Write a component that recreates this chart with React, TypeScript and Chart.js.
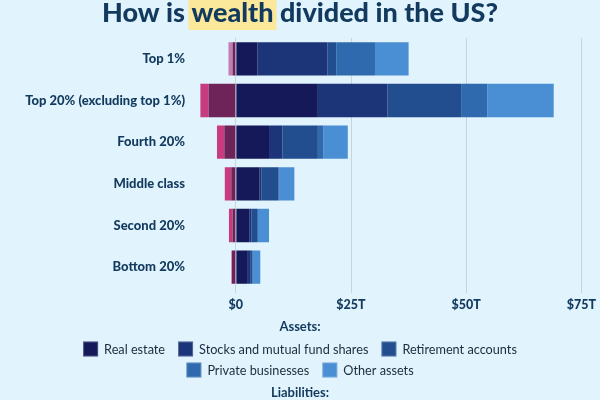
import React, { useEffect, useRef } from "react";
import { Chart, registerables } from "chart.js";
Chart.register(...registerables);

const categories = ["Top 1%", "Top 20% (excluding top 1%)", "Fourth 20%", "Middle class", "Second 20%", "Bottom 20%"];
const realEstate = [4.7, 17.8, 7.2, 5.1, 2.9, 2.6];
const stocks = [15.2, 15.1, 2.9, 0.5, 0.5, 0.5];
const retirement = [1.9, 16.0, 7.7, 3.6, 1.2, 0.5];
const privateBusinesses = [8.4, 5.7, 1.2, 0.3, 0.2, 0.1];
const otherAssets = [7.3, 14.4, 5.3, 3.2, 2.4, 1.6];
const mortgages = [-0.7, -5.9, -2.5, -1.0, -0.7, -0.85];
const otherDebt = [-0.9, -1.8, -1.6, -1.4, -0.8, -0.1];
const xTicks = [0, 25, 50, 75];
const assetLabels = ["Real estate", "Stocks and mutual fund shares", "Retirement accounts", "Private businesses", "Other assets"];
const liabilityLabels = ["Home mortgages", "Other debt"];

const NAVY = "#123a5e";
const FONT = "Lato, 'Open Sans', sans-serif";

const assetColors = ["#15195a", "#1b3578", "#224d8f", "#2f6aae", "#4a8fd4"];
const mortgageColor = "#6e2459";
const otherDebtColors = ["#c27db6", "#c73c80", "#c73c80", "#c73c80", "#c73c80", "#c73c80"];

const titlePlugin = {
  id: "titleLegend",
  afterDraw(chart: any) {
    const ctx = chart.ctx as CanvasRenderingContext2D;
    const W = chart.width;
    ctx.save();
    const p1 = "How is ", p2 = "wealth", p3 = " divided in the US?";
    let size = 27;
    ctx.font = `900 ${size}px ${FONT}`;
    const wFull = ctx.measureText(p1 + p2 + p3).width;
    size = size * 396 / wFull;
    ctx.font = `900 ${size}px ${FONT}`;
    const w1 = ctx.measureText(p1).width;
    const w2 = ctx.measureText(p2).width;
    const wAll = ctx.measureText(p1 + p2 + p3).width;
    const x0 = W / 2 - wAll / 2;
    ctx.fillStyle = "#fbe89b";
    ctx.fillRect(x0 + w1 - 3, 0, w2 + 6, 30);
    ctx.fillStyle = NAVY;
    ctx.textBaseline = "alphabetic";
    ctx.textAlign = "left";
    ctx.fillText(p1 + p2 + p3, x0, 22);

    ctx.textBaseline = "middle";
    ctx.textAlign = "center";
    ctx.font = `bold 13px ${FONT}`;
    ctx.fillStyle = NAVY;
    ctx.fillText("Assets:", W / 2, 327);
    const rows = [[0, 1, 2], [3, 4]];
    const rowY = [349, 370];
    const box = 15, gapText = 6, gapItem = 13;
    ctx.font = `12.7px ${FONT}`;
    rows.forEach((row, ri) => {
      const widths = row.map((i) => box + gapText + ctx.measureText(assetLabels[i]).width);
      const total = widths.reduce((a, b) => a + b, 0) + gapItem * (row.length - 1);
      let x = W / 2 - total / 2;
      row.forEach((i, k) => {
        ctx.fillStyle = assetColors[i];
        ctx.fillRect(x, rowY[ri] - box / 2, box, box);
        ctx.strokeStyle = "rgba(255,255,255,0.25)";
        ctx.lineWidth = 1;
        ctx.strokeRect(x + 0.5, rowY[ri] - box / 2 + 0.5, box - 1, box - 1);
        ctx.fillStyle = "#1c2b3d";
        ctx.textAlign = "left";
        ctx.fillText(assetLabels[i], x + box + gapText, rowY[ri] + 1);
        x += widths[k] + gapItem;
      });
    });
    ctx.textAlign = "center";
    ctx.font = `bold 13px ${FONT}`;
    ctx.fillStyle = NAVY;
    ctx.fillText("Liabilities:", W / 2, 393);
    ctx.restore();
  },
};

export default function App() {
  const ref = useRef<HTMLCanvasElement>(null);
  useEffect(() => {
    if (!ref.current) return;
    const mk = (label: string, data: number[], color: any) => ({
      label,
      data,
      backgroundColor: color,
      borderWidth: 0,
      barPercentage: 0.8,
      categoryPercentage: 1,
    });
    const chart = new Chart(ref.current, {
      type: "bar",
      data: {
        labels: categories,
        datasets: [
          mk(assetLabels[0], realEstate, assetColors[0]),
          mk(assetLabels[1], stocks, assetColors[1]),
          mk(assetLabels[2], retirement, assetColors[2]),
          mk(assetLabels[3], privateBusinesses, assetColors[3]),
          mk(assetLabels[4], otherAssets, assetColors[4]),
          mk(liabilityLabels[0], mortgages, mortgageColor),
          mk(liabilityLabels[1], otherDebt, otherDebtColors),
        ],
      },
      options: {
        indexAxis: "y",
        responsive: false,
        animation: false,
        layout: { padding: { top: 38, bottom: 88, left: 0, right: 15 } },
        plugins: { legend: { display: false }, tooltip: { enabled: false }, title: { display: false } },
        scales: {
          x: {
            stacked: true,
            min: -8,
            max: 75,
            afterBuildTicks: (scale: any) => {
              scale.ticks = xTicks.map((v) => ({ value: v }));
            },
            afterFit: (scale: any) => {
              scale.height = 24;
            },
            grid: { color: "#c9d3da", lineWidth: 1, drawTicks: true, tickLength: 5 },
            border: { display: false },
            ticks: {
              padding: 4,
              color: NAVY,
              font: { family: FONT, weight: "900", size: 12.5 },
              callback: (v: any) => (Number(v) === 0 ? "$0" : `$${v}T`),
            },
          },
          y: {
            stacked: true,
            afterFit: (scale: any) => {
              scale.width = 199;
            },
            grid: { display: false },
            border: { display: false },
            ticks: {
              padding: 6,
              color: NAVY,
              font: { family: FONT, weight: "900", size: 13 },
            },
          },
        },
      },
      plugins: [titlePlugin],
    } as any);
    return () => chart.destroy();
  }, []);
  return (
    <div style={{ position: "fixed", left: 0, top: 0, width: 600, height: 400, background: "#e1f3fc" }}>
      <canvas ref={ref} width={600} height={400} style={{ display: "block" }} />
    </div>
  );
}
